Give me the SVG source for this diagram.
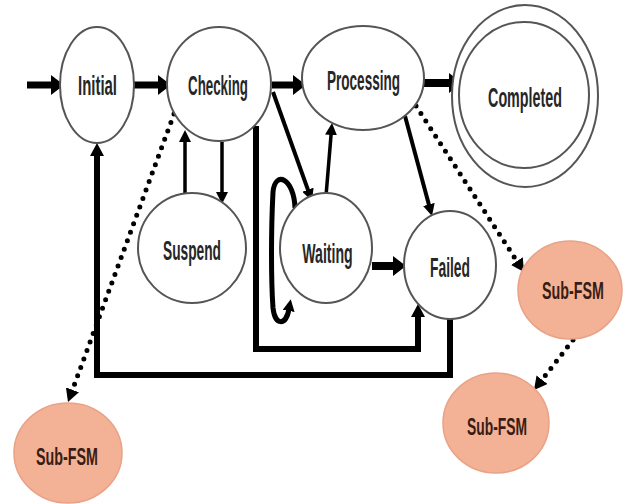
<svg xmlns="http://www.w3.org/2000/svg" width="623" height="504" viewBox="0 0 623 504">
<defs>
<style>
.st{fill:#fff;stroke:#555;stroke-width:2}
.sub{fill:#f3b196;stroke:#e9a286;stroke-width:1.5}
.lbl{font-family:"Liberation Sans",Arial,sans-serif;font-weight:bold;font-size:27px;fill:#262626;text-anchor:middle}
.sl{font-family:"Liberation Sans",Arial,sans-serif;font-weight:bold;font-size:24px;fill:#3a1c12;text-anchor:middle}
.e{fill:none;stroke:#000;stroke-linejoin:miter}
.d{fill:none;stroke:#000;stroke-width:5;stroke-linecap:round;stroke-dasharray:0 9}
</style>
<marker id="hb" markerUnits="userSpaceOnUse" markerWidth="14" markerHeight="20" viewBox="0 0 14 20" refX="2" refY="10" orient="auto"><path d="M0,0 L13,10 L0,20 z" fill="#000"/></marker>
<marker id="hm" markerUnits="userSpaceOnUse" markerWidth="14" markerHeight="14" viewBox="0 0 14 14" refX="2" refY="7" orient="auto"><path d="M0,0 L13,7 L0,14 z" fill="#000"/></marker>
<marker id="hs" markerUnits="userSpaceOnUse" markerWidth="12" markerHeight="12" viewBox="0 0 12 12" refX="2" refY="6" orient="auto"><path d="M0,0 L12,6 L0,12 z" fill="#000"/></marker>
</defs>
<rect width="623" height="504" fill="#fff"/>

<g id="connectors">
<path class="e" stroke-width="7" d="M27 85 H53" marker-end="url(#hb)"/>
<path class="e" stroke-width="7" d="M134 85 H160" marker-end="url(#hb)"/>
<path class="e" stroke-width="7" d="M272 85 H295" marker-end="url(#hb)"/>
<path class="e" stroke-width="8" d="M424 83 H451" marker-end="url(#hb)"/>
<path class="e" stroke-width="3.5" d="M222 142 V194" marker-end="url(#hs)"/>
<path class="e" stroke-width="3.5" d="M185 194 V140" marker-end="url(#hs)"/>
<path class="e" stroke-width="4" d="M273 92 L308.6 191.6" marker-end="url(#hs)"/>
<path class="e" stroke-width="3.5" d="M326 196 L331.2 133" marker-end="url(#hs)"/>
<path class="e" stroke-width="4" d="M405 116 L429.4 206.4" marker-end="url(#hs)"/>
<path class="e" stroke-width="8" d="M372 266 H395" marker-end="url(#hb)"/>
<path class="e" stroke-width="5" d="M295 208 C294 178, 275 170, 273 192 C271 230, 271 280, 273 308 C275 326, 286 326, 289 309" marker-end="url(#hs)"/>
<path class="e" stroke-width="6" d="M256 126 V349 H418 V315" marker-end="url(#hm)"/>
<path class="e" stroke-width="6" d="M450 318 V375 H97 V154" marker-end="url(#hm)"/>
<path class="d" d="M416 106 L518 262.8" marker-end="url(#hm)"/>
<path class="d" d="M174 114 L71.8 391.7" marker-end="url(#hm)"/>
<path class="d" d="M573 340 L540.8 381.3" marker-end="url(#hm)"/>
</g>

<g id="initial"><ellipse class="st" cx="97" cy="85" rx="37" ry="58"/><text class="lbl" transform="translate(97.5 95) scale(0.553 1)">Initial</text></g>
<g id="checking"><ellipse class="st" cx="219" cy="84" rx="52" ry="57"/><text class="lbl" transform="translate(218 95) scale(0.494 1)">Checking</text></g>
<g id="processing"><ellipse class="st" cx="363" cy="78" rx="61" ry="52"/><text class="lbl" transform="translate(363.5 90) scale(0.501 1)">Processing</text></g>
<g id="completed"><ellipse class="st" cx="525" cy="96" rx="73" ry="91"/><ellipse class="st" cx="524" cy="95" rx="65" ry="73"/><text class="lbl" transform="translate(525 107) scale(0.53 1)">Completed</text></g>
<g id="suspend"><ellipse class="st" cx="192" cy="248" rx="54" ry="55"/><text class="lbl" transform="translate(192 260) scale(0.509 1)">Suspend</text></g>
<g id="waiting"><ellipse class="st" cx="326" cy="248" rx="46" ry="55"/><text class="lbl" transform="translate(327.5 263) scale(0.523 1)">Waiting</text></g>
<g id="failed"><ellipse class="st" cx="450" cy="265" rx="46" ry="54"/><text class="lbl" transform="translate(450 277) scale(0.513 1)">Failed</text></g>
<g id="subfsm-right"><ellipse class="sub" cx="570" cy="290" rx="52" ry="49"/><text class="sl" transform="translate(573 299) scale(0.596 1)">Sub-FSM</text></g>
<g id="subfsm-bottom"><ellipse class="sub" cx="496" cy="423" rx="53" ry="50"/><text class="sl" transform="translate(497 435) scale(0.577 1)">Sub-FSM</text></g>
<g id="subfsm-left"><ellipse class="sub" cx="68" cy="453" rx="54" ry="50"/><text class="sl" transform="translate(67 465) scale(0.596 1)">Sub-FSM</text></g>
</svg>
